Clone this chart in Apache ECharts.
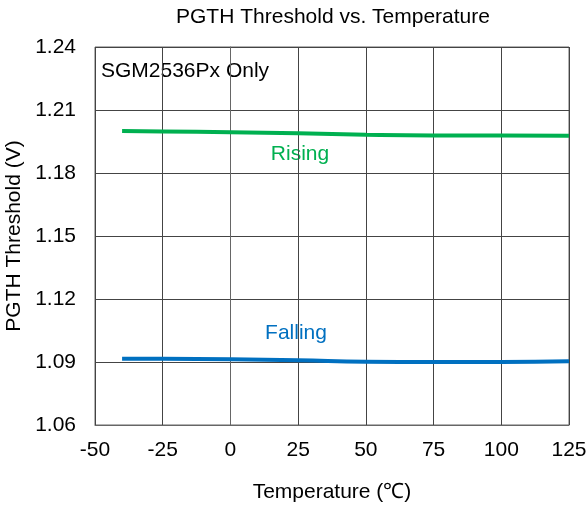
<!DOCTYPE html>
<html>
<head>
<meta charset="utf-8">
<style>
  html, body { margin: 0; padding: 0; background: #fff; }
  #chart { width: 588px; height: 506px; }
</style>
<script src="https://cdn.jsdelivr.net/npm/echarts@6/dist/echarts.min.js"></script>
</head>
<body>
<div id="chart"></div>
<script>
// Temperature points (°C)
const temperatures = [-40, -25, 0, 25, 50, 75, 100, 125];
// PGTH threshold, rising edge (V)
const risingValues = [1.2000, 1.1998, 1.1994, 1.1989, 1.1982, 1.1979, 1.1979, 1.1977];
// PGTH threshold, falling edge (V)
const fallingValues = [1.0916, 1.0915, 1.0913, 1.0908, 1.0901, 1.0900, 1.0900, 1.0903];
// Axis ticks
const xTicks = [-50, -25, 0, 25, 50, 75, 100, 125];
const yTicks = [1.06, 1.09, 1.12, 1.15, 1.18, 1.21, 1.24];

const FONT = 'Liberation Sans, Arial, sans-serif';
const FS = 21;
const pairs = (xs, ys) => xs.map((x, i) => [x, ys[i]]);

const chart = echarts.init(document.getElementById('chart'), null, { renderer: 'canvas' });
chart.setOption({
  animation: false,
  backgroundColor: '#ffffff',
  grid: { left: 95, right: 19, top: 47, bottom: 81, show: true, borderColor: '#666', borderWidth: 1,
    containLabel: false, outerBoundsMode: 'none' },
  xAxis: {
    type: 'value', min: xTicks[0], max: xTicks[xTicks.length - 1], interval: 25,
    name: 'Temperature (℃)', nameLocation: 'middle', nameGap: 57,
    nameTextStyle: { fontFamily: FONT, fontSize: FS, color: '#000' },
    axisLine: { show: true, lineStyle: { color: '#666' } },
    axisTick: { show: false },
    axisLabel: { fontFamily: FONT, fontSize: FS, color: '#000', margin: 15 },
    splitLine: { show: true, lineStyle: { color: '#444', width: 1 } }
  },
  yAxis: {
    type: 'value', min: yTicks[0], max: yTicks[yTicks.length - 1], interval: 0.03,
    name: 'PGTH Threshold (V)', nameLocation: 'middle', nameGap: 64, nameRotate: 90,
    nameTextStyle: { fontFamily: FONT, fontSize: FS, color: '#000' },
    axisLine: { show: true, lineStyle: { color: '#666' } },
    axisTick: { show: false },
    axisLabel: { fontFamily: FONT, fontSize: FS, color: '#000', margin: 19,
      formatter: v => v.toFixed(2) },
    splitLine: { show: true, lineStyle: { color: '#444', width: 1 } }
  },
  graphic: [
    { type: 'text', x: 333, y: 17,
      style: { text: 'PGTH Threshold vs. Temperature', fontFamily: FONT, fontSize: FS, fill: '#000',
        align: 'center', verticalAlign: 'middle' } },
    { type: 'text', x: 101, y: 71,
      style: { text: 'SGM2536Px Only', fontFamily: FONT, fontSize: FS, fill: '#000',
        align: 'left', verticalAlign: 'middle' } },
    { type: 'text', x: 300, y: 154,
      style: { text: 'Rising', fontFamily: FONT, fontSize: FS, fill: '#00B050',
        align: 'center', verticalAlign: 'middle' } },
    { type: 'text', x: 296, y: 333,
      style: { text: 'Falling', fontFamily: FONT, fontSize: FS, fill: '#0070C0',
        align: 'center', verticalAlign: 'middle' } }
  ],
  series: [
    { name: 'Rising', type: 'line', smooth: true, symbol: 'none',
      data: pairs(temperatures, risingValues),
      lineStyle: { color: '#00B050', width: 4 } },
    { name: 'Falling', type: 'line', smooth: true, symbol: 'none',
      data: pairs(temperatures, fallingValues),
      lineStyle: { color: '#0070C0', width: 4 } }
  ]
});
</script>
</body>
</html>
